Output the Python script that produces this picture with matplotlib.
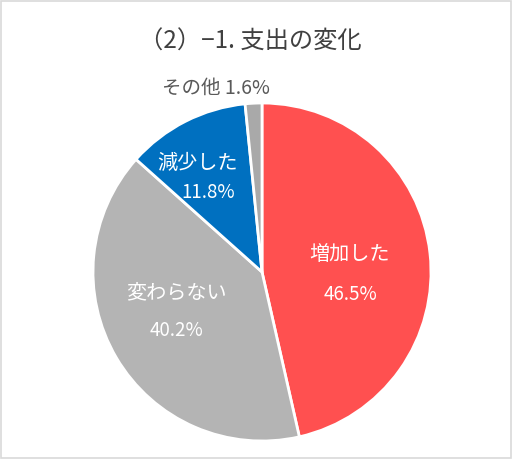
import matplotlib.pyplot as plt
from matplotlib.patches import Rectangle

plt.rcParams["font.family"] = ["Noto Sans CJK JP", "DejaVu Sans"]

labels = ["増加した", "変わらない", "減少した", "その他"]
values = [46.5, 40.2, 11.8, 1.6]
colors = ["#FF5050", "#B4B4B4", "#0070C0", "#A9A9A9"]

W, H = 512, 459
fig = plt.figure(figsize=(W / 100, H / 100), dpi=100)

# frame around the whole chart
fig.patches.append(Rectangle((0.002, 0.002), 0.996, 0.996, transform=fig.transFigure,
                             fill=False, edgecolor="#D9D9D9", lw=1.2))

cx, cy, r = 262, 272, 169
ax = fig.add_axes([(cx - r) / W, (H - cy - r) / H, 2 * r / W, 2 * r / H])
ax.pie(values, colors=colors, startangle=90, counterclock=False,
       wedgeprops={"edgecolor": "white", "linewidth": 2})
ax.set_xlim(-1, 1)
ax.set_ylim(-1, 1)
ax.set_aspect("equal")
ax.axis("off")


def px(x, y):
    return x / W, 1 - y / H


fig.text(*px(250, 42), "（2）−1. 支出の変化", ha="center", va="center",
         fontsize=17.5, color="#404040")

# label positions in pixels
fig.text(*px(350, 255), labels[0], ha="center", va="center", fontsize=14.5, color="white")
fig.text(*px(350, 294), f"{values[0]}%", ha="center", va="center", fontsize=13.5, color="white")
fig.text(*px(176, 293), labels[1], ha="center", va="center", fontsize=14.5, color="white")
fig.text(*px(176, 330), f"{values[1]}%", ha="center", va="center", fontsize=13.5, color="white")
fig.text(*px(197, 163), labels[2], ha="center", va="center", fontsize=14.5, color="white")
fig.text(*px(208, 192), f"{values[2]}%", ha="center", va="center", fontsize=13.5, color="white")
fig.text(*px(216, 88), f"{labels[3]} {values[3]}%", ha="center", va="center",
         fontsize=14, color="#595959")

fig.savefig("out.png", dpi=100)
